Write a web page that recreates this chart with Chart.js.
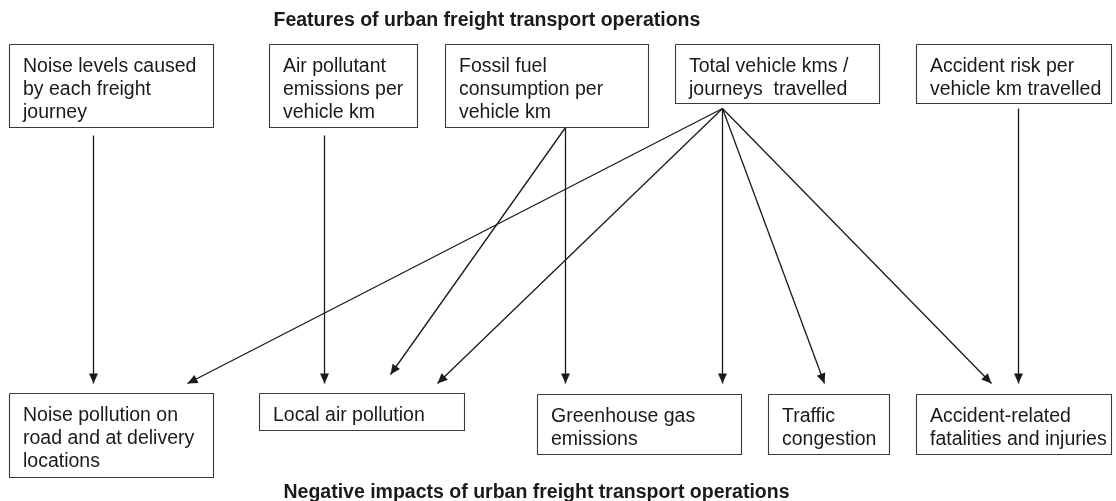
<!DOCTYPE html>
<html><head><meta charset="utf-8">
<script src="https://cdn.jsdelivr.net/npm/chart.js@4/dist/chart.umd.min.js"></script>
<style>html,body{margin:0;padding:0;background:#fff}canvas{display:block}</style>
</head><body>
<canvas id="c" width="1116" height="501"></canvas>
<script>
// ---- diagram content ----
const topTitle = "Features of urban freight transport operations";
const bottomTitle = "Negative impacts of urban freight transport operations";

const featureLabels = [
  ["Noise levels caused", "by each freight", "journey"],
  ["Air pollutant", "emissions per", "vehicle km"],
  ["Fossil fuel", "consumption per", "vehicle km"],
  ["Total vehicle kms /", "journeys  travelled"],
  ["Accident risk per", "vehicle km travelled"]
];
const impactLabels = [
  ["Noise pollution on", "road and at delivery", "locations"],
  ["Local air pollution"],
  ["Greenhouse gas", "emissions"],
  ["Traffic", "congestion"],
  ["Accident-related", "fatalities and injuries"]
];

// box extents in diagram units: [left, right, top, bottom]
const featureBoxes = [[9,213,44,127],[269,417,44,127],[445,648,44,127],[675,879,44,103],[916,1111,44,103]];
const impactBoxes  = [[9,213,393,477],[259,464,393,430],[537,741,394,454],[768,889,394,454],[916,1111,394,454]];

// links: feature index -> impact index
const linkFrom = [0,1,2,2,3,3,3,3,3,4];
const linkTo   = [0,1,2,1,0,1,2,3,4,4];
// start / end anchor points of each link (diagram units)
const linkStart = [[93,135],[324,135],[565,127],[565,127],[722,108],[722,108],[722,108],[722,108],[722,108],[1018,108]];
const linkEnd   = [[93,383],[324,383],[565,383],[390,374],[187,383],[437,383],[722,383],[824,383],[991,383],[1018,383]];

// ---- build datasets ----
function rect(b){ return [{x:b[0],y:b[2]},{x:b[1],y:b[2]},{x:b[1],y:b[3]},{x:b[0],y:b[3]},{x:b[0],y:b[2]}]; }
const datasets = [];
featureBoxes.concat(impactBoxes).forEach((b,i)=>{
  datasets.push({kind:'box', data:rect(b), showLine:true, borderColor:'#3a3a3a', borderWidth:1.1, pointRadius:0, borderJoinStyle:'miter', fill:false, tension:0});
});
linkStart.forEach((s,i)=>{
  datasets.push({kind:'arrow', data:[{x:s[0],y:s[1]},{x:linkEnd[i][0],y:linkEnd[i][1]}], showLine:true, borderColor:'#1a1a1a', borderWidth:1.3, pointRadius:0, fill:false, tension:0});
});

const FONT = '"Liberation Sans", Arial, sans-serif';
const diagramPlugin = {
  id:'diagram',
  afterDatasetsDraw(chart){
    const ctx = chart.ctx, xs = chart.scales.x, ys = chart.scales.y;
    ctx.save();
    // arrowheads
    chart.data.datasets.forEach((ds,i)=>{
      if(ds.kind!=='arrow') return;
      const pts = chart.getDatasetMeta(i).data;
      const a = pts[0], b = pts[pts.length-1];
      const ang = Math.atan2(b.y-a.y, b.x-a.x);
      const L = 10, W = 4.5;
      ctx.fillStyle = '#1a1a1a';
      ctx.beginPath();
      ctx.moveTo(b.x, b.y);
      ctx.lineTo(b.x - L*Math.cos(ang) + W*Math.sin(ang), b.y - L*Math.sin(ang) - W*Math.cos(ang));
      ctx.lineTo(b.x - L*Math.cos(ang) - W*Math.sin(ang), b.y - L*Math.sin(ang) + W*Math.cos(ang));
      ctx.closePath();
      ctx.fill();
    });
    // box texts
    ctx.fillStyle = '#1a1a1a';
    ctx.font = '19.5px ' + FONT;
    ctx.textAlign = 'left';
    ctx.textBaseline = 'alphabetic';
    const drawTexts = (boxes, labels)=>{
      boxes.forEach((b,i)=>{
        labels[i].forEach((line,k)=>{
          ctx.fillText(line, xs.getPixelForValue(b[0]+13.5), ys.getPixelForValue(b[2]+27+23*k));
        });
      });
    };
    drawTexts(featureBoxes, featureLabels);
    drawTexts(impactBoxes, impactLabels);
    // titles
    ctx.font = 'bold 19.5px ' + FONT;
    ctx.textAlign = 'left';
    ctx.fillText(topTitle, xs.getPixelForValue(273), ys.getPixelForValue(25));
    ctx.fillText(bottomTitle, xs.getPixelForValue(283), ys.getPixelForValue(497));
    ctx.restore();
  }
};

new Chart(document.getElementById('c'), {
  type:'scatter',
  data:{datasets},
  options:{
    responsive:false, animation:false,
    layout:{padding:0},
    plugins:{legend:{display:false}, tooltip:{enabled:false}, title:{display:false}},
    scales:{
      x:{type:'linear', min:-0.5, max:1115.5, display:false},
      y:{type:'linear', min:-0.5, max:500.5, reverse:true, display:false}
    }
  },
  plugins:[diagramPlugin]
});
</script>
</body></html>
